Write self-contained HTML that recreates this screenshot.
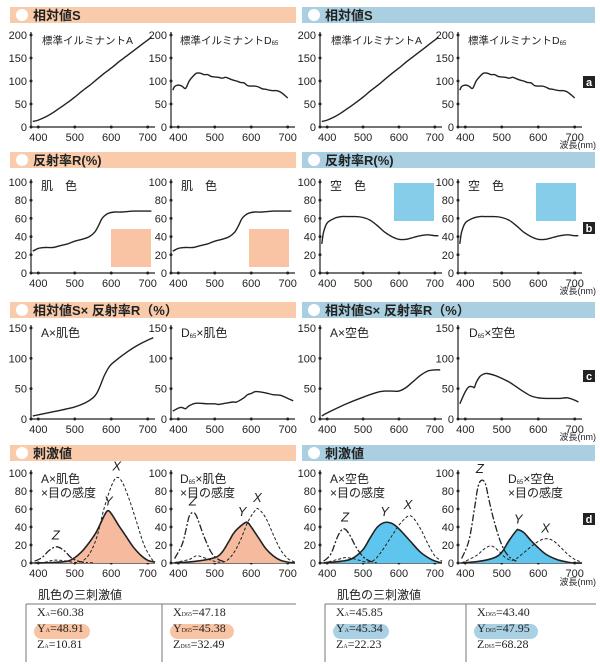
<!DOCTYPE html>
<html><head><meta charset="utf-8"><style>
body{margin:0;background:#fff;width:600px;height:665px;overflow:hidden}
svg{display:block}
text{font-family:"Liberation Sans","Noto Sans CJK JP",sans-serif;fill:#222}
.ser{font-family:"Liberation Serif","Noto Serif CJK SC",serif}
.wt{fill:#fff}
</style></head><body>
<svg id="fig" width="600" height="665" viewBox="0 0 600 665"></svg>
<script>
// ---------- data ----------
const illumA_wl=[385,400,420,440,460,480,500,520,540,560,580,600,620,640,660,680,700,710];
const illumA_val=[12,15,22,31,42,53,65,78,90,103,116,128,141,153,165,177,189,195];
const d65_wl=[385,390,400,410,420,430,440,450,460,470,480,490,500,510,520,530,540,550,560,570,580,590,600,610,620,630,640,650,660,670,680,690,700];
const d65_val=[80,88,91,89,84,100,110,117,117,114,114,110,109,108,106,108,105,102,100,97,96,90,89,89,87,83,82,80,79,79,76,70,63];
const skinR_wl=[385,400,420,440,460,480,500,520,540,555,565,575,585,595,610,630,660,690,710];
const skinR_val=[24,27,28,28,30,32,35,37,40,45,52,60,64,66,67,67,68,68,68];
const skyR_wl=[385,390,400,420,440,460,480,500,520,540,560,580,600,620,640,660,680,700,710];
const skyR_val=[32,45,55,60,62,62,62,61,58,52,45,40,37,37,39,41,42,41,41];
const aSkin_wl=[385,400,450,500,530,550,560,570,580,590,600,620,640,660,680,700,715];
const aSkin_val=[5,7,13,20,27,35,42,55,70,82,90,100,109,117,124,130,134];
const dSkin_wl=[385,400,410,420,430,450,480,500,510,530,550,560,580,590,600,610,620,640,660,680,700,715];
const dSkin_val=[13,18,19,17,22,26,25,25,24,26,28,28,35,40,42,45,45,43,40,39,34,30];
const aSky_wl=[385,400,450,500,540,560,580,600,620,640,660,680,700,715];
const aSky_val=[5,10,24,36,44,46,46,46,52,62,72,79,81,81];
const dSky_wl=[385,400,410,420,425,430,440,450,460,480,500,520,540,560,580,600,620,640,660,680,700,710];
const dSky_val=[25,45,53,53,52,60,70,74,75,72,67,61,53,45,38,35,34,34,34,35,31,28];
// stimulus (d panel)
const aSkinX_wl=[390,420,440,460,480,500,520,540,560,580,600,615,630,650,670,690,710,720];
const aSkinX_val=[0,1,3,3,2,0.5,2,10,28,60,85,95,90,70,45,20,5,1];
const aSkinY_wl=[390,440,480,500,520,540,560,580,590,600,620,640,660,680,700,720];
const aSkinY_val=[0,0.5,2,6,13,23,35,52,58,55,42,30,18,9,3,1];
const aSkinZ_wl=[390,410,430,450,470,490,510,530,550];
const aSkinZ_val=[2,6,14,18,14,6,2,0.5,0];
const dSkinX_wl=[390,430,450,470,490,510,530,550,570,590,610,620,640,660,680,700,720];
const dSkinX_val=[0.5,4,8,6,3,1,2,10,25,45,58,60,50,32,15,5,1];
const dSkinY_wl=[390,450,500,520,540,550,560,580,590,600,620,640,660,680,700,720];
const dSkinY_val=[0,2,6,12,25,32,37,44,45,40,28,16,8,3,1,0];
const dSkinZ_wl=[390,410,420,430,440,450,470,490,510,530];
const dSkinZ_val=[5,20,35,52,56,52,30,12,4,1];
const aSkyX_wl=[390,430,450,470,490,510,530,550,580,600,625,640,660,680,700,720];
const aSkyX_val=[0,4,6,5,3,1,3,12,30,42,52,50,38,22,8,2];
const aSkyY_wl=[390,440,470,500,520,540,560,580,600,630,660,690,710,720];
const aSkyY_val=[0,2,5,15,28,40,45,44,38,25,12,4,1,0.5];
const aSkyZ_wl=[390,410,430,445,460,480,500,520,540];
const aSkyZ_val=[2,10,30,38,33,18,7,2,0];
const dSkyX_wl=[390,430,450,470,490,510,530,550,580,600,620,640,660,680,700,720];
const dSkyX_val=[0,8,15,19,14,6,3,8,18,24,27,25,18,10,4,1];
const dSkyY_wl=[390,440,480,500,520,540,545,560,580,600,620,650,680,700,720];
const dSkyY_val=[0,2,6,12,25,36,37,34,25,17,10,4,1,0,0];
const dSkyZ_wl=[390,410,425,435,445,455,465,480,500,520,540];
const dSkyZ_val=[5,25,60,85,92,88,70,45,20,7,2];
const xTicks=[400,500,600,700];

// ---------- helpers ----------
const NS="http://www.w3.org/2000/svg";
const svg=document.getElementById('fig');
function mk(tag,attrs,parent,txt){const e=document.createElementNS(NS,tag);for(const k in attrs)e.setAttribute(k,attrs[k]);if(txt!==undefined)e.textContent=txt;(parent||svg).appendChild(e);return e;}
function smoothPath(pts){let d='M'+pts[0][0].toFixed(1)+','+pts[0][1].toFixed(1);for(let i=0;i<pts.length-1;i++){const p0=pts[i-1]||pts[i],p1=pts[i],p2=pts[i+1],p3=pts[i+2]||p2;const c1=[p1[0]+(p2[0]-p0[0])/6,p1[1]+(p2[1]-p0[1])/6],c2=[p2[0]-(p3[0]-p1[0])/6,p2[1]-(p3[1]-p1[1])/6];d+='C'+c1[0].toFixed(1)+','+c1[1].toFixed(1)+' '+c2[0].toFixed(1)+','+c2[1].toFixed(1)+' '+p2[0].toFixed(1)+','+p2[1].toFixed(1);}return d;}
function makeAxes(c,name){
  const g=mk('g',{});
  
  
  c.g=g;
  c.sx=w=>c.x0+(w-380)/340*(c.x1-c.x0);
  c.sy=v=>c.yb-v/c.ymax*(c.yb-c.yt);
  const ax=mk('path',{d:`M${c.x0},${c.yt-3}V${c.yb}H${c.x1}`,stroke:'#222','stroke-width':1.2,fill:'none'},g);
  
  
  c.yticks.forEach(v=>{const y=c.sy(v);mk('circle',{cx:c.x0,cy:y,r:1.5,fill:'#222'},g);
    const t=mk('text',{x:c.x0-4,y:y+4,'text-anchor':'end','font-size':11},g,String(v));
    
    });
  xTicks.forEach(v=>{const x=c.sx(v);mk('circle',{cx:x,cy:c.yb,r:1.5,fill:'#222'},g);
    const t=mk('text',{x:x,y:c.yb+14,'text-anchor':'middle','font-size':11},g,String(v));
    
    });
  return c;
}
function line(c,wl,val,name,opts){
  const pts=wl.map((w,i)=>[c.sx(w),c.sy(val[i])]);
  const o=opts||{};
  if(o.fill){const d=smoothPath(pts)+`L${pts[pts.length-1][0]},${c.yb}L${pts[0][0]},${c.yb}Z`;
    const f=mk('path',{d:d,fill:o.fill,stroke:'none'},c.g);
    
    }
  const p=mk('path',{d:smoothPath(pts),fill:'none',stroke:'#222','stroke-width':o.w||1.4,'stroke-dasharray':o.dash||'none'},c.g);
  
  
}
function label(c,x,y,txt,sub,name,size){
  const t=mk('text',{x:x,y:y,'font-size':size||10.5},c?c.g:svg);
  
  
  const parts=txt.split('|');
  mk('tspan',{},t,parts[0]);
  if(sub){mk('tspan',{'font-size':6,dy:1},t,sub);mk('tspan',{dy:-1},t,parts[1]||'');}
  return t;
}
function header(x,w,y,color,txt,name){
  const g=mk('g',{});
  
  
  mk('rect',{x:x,y:y,width:w,height:16,fill:color},g);
  mk('circle',{cx:x+12,cy:y+8,r:6,fill:'#fff'},g);
  mk('text',{x:x+23,y:y+13,'font-size':13,'font-weight':'bold'},g,txt);
}
function tag(y,ch,name){
  const g=mk('g',{});
  
  
  mk('rect',{x:583,y:y,width:12,height:12,fill:'#222'},g);
  mk('text',{x:589,y:y+10,'font-size':11,'font-weight':'bold','text-anchor':'middle',class:'wt'},g,ch);
}
function wave(y){const t=mk('text',{x:596,y:y,'font-size':9,'text-anchor':'end',fill:'#444'},svg,'波長(nm)');
  
  }

const OR='#f9cbaa', BL='#a9cfe1';
const cols=[[31,155],[171,295],[320,442],[458,582]];
// ---- panel a ----
header(10,286,7,OR,'相対値S','header-relative-S-left');
header(302,293,7,BL,'相対値S','header-relative-S-right');
const rowA={yb:127,yt:35,ymax:200,yticks:[0,50,100,150,200]};
const a1=makeAxes(Object.assign({x0:31,x1:155},rowA),'chart-illuminant-A-left');
line(a1,illumA_wl,illumA_val,'illuminant-A-line');label(a1,42,44,'標準イルミナントA','','chart-title');
const a2=makeAxes(Object.assign({x0:171,x1:295},rowA),'chart-illuminant-D65-left');
line(a2,d65_wl,d65_val,'illuminant-D65-line');label(a2,180,44,'標準イルミナントD|','65','chart-title');
const a3=makeAxes(Object.assign({x0:320,x1:442},rowA),'chart-illuminant-A-right');
line(a3,illumA_wl,illumA_val,'illuminant-A-line');label(a3,331,44,'標準イルミナントA','','chart-title');
const a4=makeAxes(Object.assign({x0:458,x1:582},rowA),'chart-illuminant-D65-right');
line(a4,d65_wl,d65_val,'illuminant-D65-line');label(a4,468,44,'標準イルミナントD|','65','chart-title');
tag(76,'a','panel-tag-a');wave(148);
// ---- panel b ----
header(10,286,152,OR,'反射率R(%)','header-reflectance-left');
header(302,293,152,BL,'反射率R(%)','header-reflectance-right');
const rowB={yb:273,yt:182,ymax:100,yticks:[0,20,40,60,80,100]};
[[0,skinR_wl,skinR_val,'肌　色','#f9c4a4',111,229,'skin'],[1,skinR_wl,skinR_val,'肌　色','#f9c4a4',249,229,'skin'],
 [2,skyR_wl,skyR_val,'空　色','#86cdea',394,183,'sky'],[3,skyR_wl,skyR_val,'空　色','#86cdea',536,183,'sky']].forEach(r=>{
  const c=makeAxes(Object.assign({x0:cols[r[0]][0],x1:cols[r[0]][1]},rowB),'chart-reflectance-'+r[7]);
  const sw=mk('rect',{x:r[5],y:r[6],width:40,height:38,fill:r[4]},c.g);
  
  
  line(c,r[1],r[2],r[7]+'-reflectance-line');
  label(c,cols[r[0]][0]+10,190,r[3],'','chart-title',12);
});
tag(222,'b','panel-tag-b');wave(294);
// ---- panel c ----
header(10,286,302,OR,'相対値S× 反射率R（%）','header-product-left');
header(302,293,302,BL,'相対値S× 反射率R（%）','header-product-right');
const rowC={yb:419,yt:328,ymax:150,yticks:[0,50,100,150]};
const c1=makeAxes(Object.assign({x0:31,x1:155},rowC),'chart-A-skin');line(c1,aSkin_wl,aSkin_val,'A-skin-line');label(c1,41,337,'A×肌色','','chart-title',12);
const c2=makeAxes(Object.assign({x0:171,x1:295},rowC),'chart-D65-skin');line(c2,dSkin_wl,dSkin_val,'D65-skin-line');label(c2,181,337,'D|×肌色','65','chart-title',12);
const c3=makeAxes(Object.assign({x0:320,x1:442},rowC),'chart-A-sky');line(c3,aSky_wl,aSky_val,'A-sky-line');label(c3,330,337,'A×空色','','chart-title',12);
const c4=makeAxes(Object.assign({x0:458,x1:582},rowC),'chart-D65-sky');line(c4,dSky_wl,dSky_val,'D65-sky-line');label(c4,469,337,'D|×空色','65','chart-title',12);
tag(370,'c','panel-tag-c');wave(440);
// ---- panel d ----
header(10,286,445,OR,'刺激値','header-stimulus-left');
header(302,293,445,BL,'刺激値','header-stimulus-right');
const rowD={yb:563,yt:473,ymax:100,yticks:[0,20,40,60,80,100]};
const dsets=[
 [0,aSkinX_wl,aSkinX_val,aSkinY_wl,aSkinY_val,aSkinZ_wl,aSkinZ_val,'#f6bb9e','A×肌色','','A-skin',[[615,103],[592,64],[448,26]],41],
 [1,dSkinX_wl,dSkinX_val,dSkinY_wl,dSkinY_val,dSkinZ_wl,dSkinZ_val,'#f6bb9e','D|×肌色','65','D65-skin',[[617,68],[575,52],[440,64]],180],
 [2,aSkyX_wl,aSkyX_val,aSkyY_wl,aSkyY_val,aSkyZ_wl,aSkyZ_val,'#5ec6ee','A×空色','','A-sky',[[625,60],[560,52],[450,46]],330],
 [3,dSkyX_wl,dSkyX_val,dSkyY_wl,dSkyY_val,dSkyZ_wl,dSkyZ_val,'#5ec6ee','D|×空色','65','D65-sky',[[620,34],[545,44],[440,100]],508]];
dsets.forEach(r=>{
  const c=makeAxes(Object.assign({x0:cols[r[0]][0],x1:cols[r[0]][1]},rowD),'chart-stimulus-'+r[10]);
  line(c,r[3],r[4],'Y-curve',{fill:r[7],w:1.6});
  line(c,r[1],r[2],'X-curve',{dash:'3,2',w:1});
  line(c,r[5],r[6],'Z-curve',{dash:'7,2,2,2',w:1.3});
  const bx=r[12];
  label(c,bx,483,r[8],r[9],'chart-title',12);
  label(c,bx,497,'×目の感度','','chart-subtitle',12);
  ['X','Y','Z'].forEach((n,i)=>{const t=mk('text',{x:c.sx(r[11][i][0]),y:c.sy(r[11][i][1]),'font-size':13,'font-style':'italic','text-anchor':'middle'},c.g,n);
    
    });
});
tag(513,'d','panel-tag-d');wave(585);
// ---- tables ----
function table(x0,xm,x1,color,title,vals,name){
  const g=mk('g',{});
  
  
  mk('text',{x:x0+12,y:599,'font-size':12},g,title);
  mk('path',{d:`M${x0},604H${x1}M${x0},604V662M${xm},604V662`,stroke:'#777','stroke-width':1,fill:'none'},g);
  [[x0,0],[xm,3]].forEach(([x,k])=>{
    mk('rect',{x:x+8,y:624,width:(k?64:56),height:15,rx:7.5,fill:color},g);
    ['X','Y','Z'].forEach((n,i)=>{
      const t=mk('text',{x:x+11,y:616+i*16,'font-size':12,class:'ser'},g);
      
      
      mk('tspan',{},t,n);mk('tspan',{'font-size':6},t,k?'D65':'A');mk('tspan',{},t,'='+vals[k+i]);
    });
  });
}
table(26,162,296,'#f9c4a4','肌色の三刺激値',['60.38','48.91','10.81','47.18','45.38','32.49'],'table-skin-tristimulus');
table(325,466,596,'#a9d0e3','肌色の三刺激値',['45.85','45.34','22.23','43.40','47.95','68.28'],'table-sky-tristimulus');
</script>
</body></html>
